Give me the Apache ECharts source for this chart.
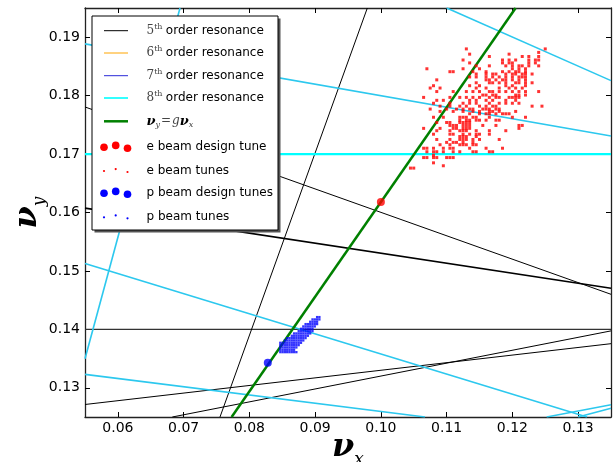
<!DOCTYPE html>
<html><head><meta charset="utf-8">
<script src="https://cdn.jsdelivr.net/npm/echarts@6/dist/echarts.min.js"></script>
<style>html,body{margin:0;padding:0;background:#fff}#c{width:615px;height:462px}</style>
</head><body><div id="c"></div>
<script>
const xTicks = [0.06, 0.07, 0.08, 0.09, 0.10, 0.11, 0.12, 0.13];
const yTicks = [0.13, 0.14, 0.15, 0.16, 0.17, 0.18, 0.19];
const xRange = [0.055, 0.135];
const yRange = [0.125, 0.195];

// 5th order resonance lines (black), endpoints [nu_x, nu_y]
const order5Lines = [
  [[0.055, 0.14], [0.135, 0.14]],
  [[0.07553, 0.125], [0.09794, 0.195]],
  [[0.055, 0.17806], [0.135, 0.14600]],
  [[0.055, 0.16075], [0.135, 0.14703]],
  [[0.055, 0.12714], [0.135, 0.13755]],
  [[0.06828, 0.125], [0.135, 0.13974]]
];
// 8th order resonance lines (cyan)
const order8Lines = [
  [[0.055, 0.17], [0.135, 0.17]],
  [[0.055, 0.18886], [0.135, 0.17309]],
  [[0.11001, 0.195], [0.135, 0.18257]],
  [[0.055, 0.13498], [0.06945, 0.195]],
  [[0.055, 0.15127], [0.13135, 0.125]],
  [[0.055, 0.13229], [0.10671, 0.125]],
  [[0.12522, 0.125], [0.135, 0.12709]],
  [[0.12999, 0.125], [0.135, 0.12651]]
];
// nu_y = g nu_x (green)
const couplingLine = [[0.0773, 0.125], [0.1205, 0.195]];
const eDesignTune = [[0.1000, 0.1618]];
const pDesignTune = [[0.0828, 0.1343]];

// e beam tunes: rows of nu_y with their nu_x values
const eRowsY = [0.1880,0.1874,0.1871,0.1867,0.1861,0.1856,0.1851,0.1846,0.1841,0.1837,
  0.1832,0.1827,0.1822,0.1817,0.1813,0.1807,0.1801,0.1797,0.1792,0.1787,
  0.1782,0.1777,0.1773,0.1769,0.1763,0.1758,0.1754,0.1749,0.1744,0.1740,
  0.1734,0.1730,0.1725,0.1720,0.1716,0.1710,0.1704,0.1698,0.1694,0.1685,0.1680,0.1676];
const eRowsX = [
  [0.113,0.125],
  [0.124],
  [0.1135,0.1195],
  [0.1165,0.1215,0.1225,0.124],
  [0.1125,0.1185,0.1195,0.1205,0.1225,0.1235,0.124],
  [0.1135,0.1185,0.1195,0.12,0.1225,0.1235],
  [0.1145,0.1165,0.119,0.12,0.121,0.1215,0.1225,0.124],
  [0.107,0.1125,0.115,0.12,0.121,0.122],
  [0.1105,0.111,0.114,0.116,0.1185,0.1195,0.1205,0.121,0.122],
  [0.1145,0.116,0.117,0.1175,0.119,0.12,0.1205,0.1215,0.122,0.123],
  [0.1135,0.1145,0.116,0.117,0.118,0.119,0.12,0.121,0.1215,0.122],
  [0.1085,0.116,0.1165,0.1175,0.1185,0.119,0.12,0.121,0.122],
  [0.1145,0.1165,0.117,0.118,0.119,0.1205,0.121,0.122,0.123],
  [0.108,0.1135,0.115,0.119,0.12,0.122],
  [0.1075,0.109,0.1145,0.116,0.118,0.1195,0.1205,0.1215],
  [0.1085,0.111,0.113,0.114,0.115,0.1165,0.117,0.118,0.119,0.12,0.121,0.122,0.124],
  [0.1155,0.116,0.117,0.1175,0.1205,0.121,0.122],
  [0.1065,0.1105,0.112,0.113,0.114,0.115,0.1165,0.1175,0.118,0.1195,0.12,0.1205,0.121],
  [0.1085,0.1095,0.1135,0.1145,0.116,0.117,0.119,0.1205],
  [0.108,0.1105,0.1125,0.1135,0.1145,0.1165,0.118,0.119,0.12,0.121],
  [0.109,0.1105,0.112,0.113,0.115,0.116,0.117,0.1175,0.123,0.1245],
  [0.1075,0.11,0.1115,0.1125,0.1135,0.114,0.1155,0.116,0.1165,0.1175,0.118],
  [0.109,0.111,0.1125,0.114,0.115,0.1165,0.117,0.118,0.1205],
  [0.1135,0.115,0.116,0.1165,0.1175,0.1185,0.119,0.1195],
  [0.108,0.1095,0.112,0.1125,0.113,0.114,0.1145,0.1165,0.12,0.122],
  [0.112,0.113,0.1135,0.1145,0.115,0.116,0.1175,0.118],
  [0.1085,0.11,0.1105,0.112,0.1125,0.113,0.1135],
  [0.1105,0.111,0.1115,0.1125,0.113,0.1135,0.1155,0.1175,0.121,0.1215],
  [0.1065,0.109,0.111,0.1115,0.1125,0.113,0.1135,0.121],
  [0.1085,0.1105,0.112,0.1125,0.113,0.1145,0.1165,0.119],
  [0.108,0.1105,0.111,0.1125,0.1135,0.1145,0.115,0.1165],
  [0.112,0.1125,0.113,0.1145],
  [0.1085,0.1105,0.112,0.1125,0.113,0.114,0.115,0.118],
  [0.11,0.111,0.1115,0.1125,0.114],
  [0.109,0.1105,0.112,0.1125,0.113,0.114,0.1145],
  [0.1065,0.107,0.108,0.1095,0.1105,0.111,0.1135,0.116,0.1185],
  [0.107,0.108,0.1085,0.1095,0.111,0.112,0.114,0.1145,0.1165,0.117],
  [0.108],
  [0.1065,0.107,0.108,0.1085,0.11,0.1105,0.111],
  [0.108],
  [0.1095],
  [0.1045,0.105]
];

// p beam tunes: columns of nu_x with their nu_y values
const pColsX = [0.0847,0.08505,0.0854,0.08575,0.0861,0.08645,0.0868,0.08715,0.0875,
  0.08785,0.0882,0.08855,0.0889,0.08925,0.0896,0.08995,0.0903,0.09065];
const pColsY = [
  [0.1361,0.1365,0.1369,0.1373,0.1377],
  [0.1361,0.1365,0.1369,0.1373,0.1377],
  [0.1361,0.1365,0.1369,0.1373,0.1377,0.1381],
  [0.1361,0.1365,0.1369,0.1373,0.1377,0.1381,0.1385],
  [0.1361,0.1365,0.1369,0.1373,0.1377,0.1381,0.1385],
  [0.1361,0.1365,0.1369,0.1373,0.1377,0.1381,0.1385,0.1389],
  [0.1361,0.1365,0.1369,0.1373,0.1377,0.1381,0.1385,0.1389,0.1393],
  [0.1361,0.1369,0.1373,0.1377,0.1381,0.1385,0.1389,0.1393],
  [0.1373,0.1377,0.1381,0.1385,0.1389,0.1393,0.1397],
  [0.1377,0.1381,0.1385,0.1389,0.1393,0.1397,0.1401],
  [0.1381,0.1385,0.1389,0.1393,0.1397,0.1401,0.1405],
  [0.1385,0.1389,0.1393,0.1397,0.1401,0.1405,0.1409],
  [0.1389,0.1393,0.1397,0.1401,0.1405,0.1409],
  [0.1393,0.1397,0.1401,0.1405,0.1409,0.1413],
  [0.1397,0.1401,0.1405,0.1409,0.1413,0.1417],
  [0.1405,0.1409,0.1413,0.1417],
  [0.1409,0.1413,0.1417,0.1421],
  [0.1417,0.1421]
];

const legendLabels = ['order resonance', 'e beam design tune', 'e beam tunes', 'p beam design tunes', 'p beam tunes'];
const orderNumbers = ['5', '6', '7', '8'];

// ---------- build ----------
const eTunes = [];
eRowsY.forEach((y, i) => eRowsX[i].forEach(x => eTunes.push([x, y])));
const pTunes = [];
pColsX.forEach((x, i) => pColsY[i].forEach(y => pTunes.push([x, y])));

const series = [];
order5Lines.forEach((seg, i) => series.push({
  type: 'line', data: seg, showSymbol: false, silent: true, z: 2,
  lineStyle: { color: i === 0 ? '#333' : '#000', width: i === 3 ? 1.6 : (i === 0 ? 1.3 : 1) }
}));
order8Lines.forEach((seg, i) => series.push({
  type: 'line', data: seg, showSymbol: false, silent: true, z: 2,
  lineStyle: { color: i === 0 ? '#00ffff' : '#2cc8ee', width: i === 0 ? 2.2 : 1.6 }
}));
series.push({ type: 'line', data: couplingLine, showSymbol: false, z: 3,
  lineStyle: { color: '#008000', width: 2.5 } });
series.push({ type: 'scatter', data: eTunes, symbol: 'rect', symbolSize: 3, z: 4,
  itemStyle: { color: '#ff0000' } });
series.push({ type: 'scatter', data: pTunes, symbol: 'rect', symbolSize: 2.3, z: 4,
  itemStyle: { color: '#0000ff' } });
series.push({ type: 'scatter', data: eDesignTune, symbolSize: 8, z: 5, itemStyle: { color: '#ff0000' } });
series.push({ type: 'scatter', data: pDesignTune, symbolSize: 8, z: 5, itemStyle: { color: '#0000ff' } });

const tickStyle = { inside: true, length: 5, lineStyle: { color: '#000', width: 1 } };
const axisLineStyle = { show: true, lineStyle: { color: '#222', width: 1.3 } };
const labelFont = { fontFamily: 'DejaVu Sans', fontSize: 14, color: '#000' };
const nameRich = {
  nu: { fontFamily: 'DejaVu Serif', fontStyle: 'italic', fontWeight: 'bold', fontSize: 32, color: '#000' },
  sub: { fontFamily: 'DejaVu Serif', fontStyle: 'italic', fontSize: 17, color: '#000', verticalAlign: 'bottom', padding: [0, 0, -4, 0] }
};

// legend (graphic)
const LX = 92, LY = 16, LW = 186, LH = 214;
const rowY = [30.7, 53, 75.7, 98, 121.3, 147, 170.7, 193, 217];
const lineColors = ['#000', '#ffa500', '#2a2ad8', '#00ffff'];
const g = [];
g.push({ type: 'rect', shape: { x: LX + 2.5, y: LY + 2.5, width: LW, height: LH }, style: { fill: '#555' }, z: 100 });
g.push({ type: 'rect', shape: { x: LX, y: LY, width: LW, height: LH }, style: { fill: '#fff', stroke: '#000', lineWidth: 1 }, z: 101 });
const supRich = {
  n: { fontFamily: 'DejaVu Serif', fontSize: 12, fill: '#444', color: '#444' },
  s: { fontFamily: 'DejaVu Serif', fontSize: 8, fill: '#444', color: '#444', verticalAlign: 'top', lineHeight: 16 },
  t: { fontFamily: 'DejaVu Sans', fontSize: 12, fill: '#000', color: '#000', lineHeight: 16 }
};
for (let i = 0; i < 4; i++) {
  g.push({ type: 'line', shape: { x1: 104, y1: rowY[i], x2: 128, y2: rowY[i] }, style: { stroke: lineColors[i], lineWidth: i === 3 ? 1.6 : 1 }, z: 102 });
  g.push({ type: 'text', x: 146.5, y: rowY[i], z: 102,
    style: { text: '{n|' + orderNumbers[i] + '}{s|th} {t|' + legendLabels[0] + '}', rich: supRich, verticalAlign: 'middle', align: 'left' } });
}
g.push({ type: 'line', shape: { x1: 104, y1: rowY[4], x2: 128, y2: rowY[4] }, style: { stroke: '#008000', lineWidth: 2.5 }, z: 102 });
g.push({ type: 'text', x: 146.5, y: rowY[4], z: 102,
  style: { text: '{nu|ν}{sb|y}{eq|=}{g|g}{nu|ν}{sb|x}', verticalAlign: 'middle', align: 'left',
    rich: {
      nu: { fontFamily: 'DejaVu Serif', fontStyle: 'italic', fontWeight: 'bold', fontSize: 13, fill: '#000', color: '#000', lineHeight: 16 },
      sb: { fontFamily: 'DejaVu Serif', fontStyle: 'italic', fontSize: 8, fill: '#444', color: '#444', verticalAlign: 'bottom', lineHeight: 16 },
      eq: { fontFamily: 'DejaVu Serif', fontSize: 12, fill: '#444', color: '#444', padding: [0, 1, 0, 1] },
      g: { fontFamily: 'DejaVu Serif', fontStyle: 'italic', fontSize: 12, fill: '#444', color: '#444' }
    } } });
const dotRows = [
  { y: rowY[5], r: 3.8, c: '#ff0000', label: legendLabels[1] },
  { y: rowY[6], r: 1.1, c: '#ff0000', label: legendLabels[2] },
  { y: rowY[7], r: 3.8, c: '#0000ff', label: legendLabels[3] },
  { y: rowY[8], r: 1.1, c: '#0000ff', label: legendLabels[4] }
];
const dotDx = [104, 115.7, 127.5];
const dotDy = [0.3, -1.6, 1.3];
dotRows.forEach(d => {
  dotDx.forEach((dx, k) => g.push({ type: 'circle', shape: { cx: dx, cy: d.y + dotDy[k], r: d.r }, style: { fill: d.c }, z: 102 }));
  g.push({ type: 'text', x: 146.5, y: d.y, z: 102,
    style: { text: d.label, fontFamily: 'DejaVu Sans', fontSize: 12, fill: '#000', verticalAlign: 'middle', align: 'left' } });
});

const chart = echarts.init(document.getElementById('c'), null, { renderer: 'canvas' });
chart.setOption({
  animation: false,
  backgroundColor: '#fff',
  grid: { left: 85, right: 4, top: 8, bottom: 45, containLabel: false, outerBoundsMode: 'none' },
  xAxis: [
    { type: 'value', min: xRange[0], max: xRange[1], position: 'bottom',
      axisLine: axisLineStyle, splitLine: { show: false },
      axisTick: Object.assign({ customValues: xTicks }, tickStyle),
      axisLabel: Object.assign({ customValues: xTicks, margin: 4, formatter: v => v.toFixed(2) }, labelFont),
      name: '{nu|ν}{sub|x}', nameLocation: 'middle', nameGap: 15, nameMoveOverlap: false, nameTextStyle: { rich: nameRich } },
    { type: 'value', min: xRange[0], max: xRange[1], position: 'top',
      axisLine: axisLineStyle, splitLine: { show: false },
      axisTick: Object.assign({ customValues: xTicks }, tickStyle),
      axisLabel: { show: false } }
  ],
  yAxis: [
    { type: 'value', min: yRange[0], max: yRange[1], position: 'left',
      axisLine: axisLineStyle, splitLine: { show: false },
      axisTick: Object.assign({ customValues: yTicks }, tickStyle),
      axisLabel: Object.assign({ customValues: yTicks, margin: 5, formatter: v => v.toFixed(2) }, labelFont),
      name: '{nu|ν}{sub|y}', nameLocation: 'middle', nameRotate: 90, nameGap: 41, nameMoveOverlap: false, nameTextStyle: { rich: nameRich } },
    { type: 'value', min: yRange[0], max: yRange[1], position: 'right',
      axisLine: axisLineStyle, splitLine: { show: false },
      axisTick: Object.assign({ customValues: yTicks }, tickStyle),
      axisLabel: { show: false } }
  ],
  series: series,
  graphic: g
});
</script></body></html>
